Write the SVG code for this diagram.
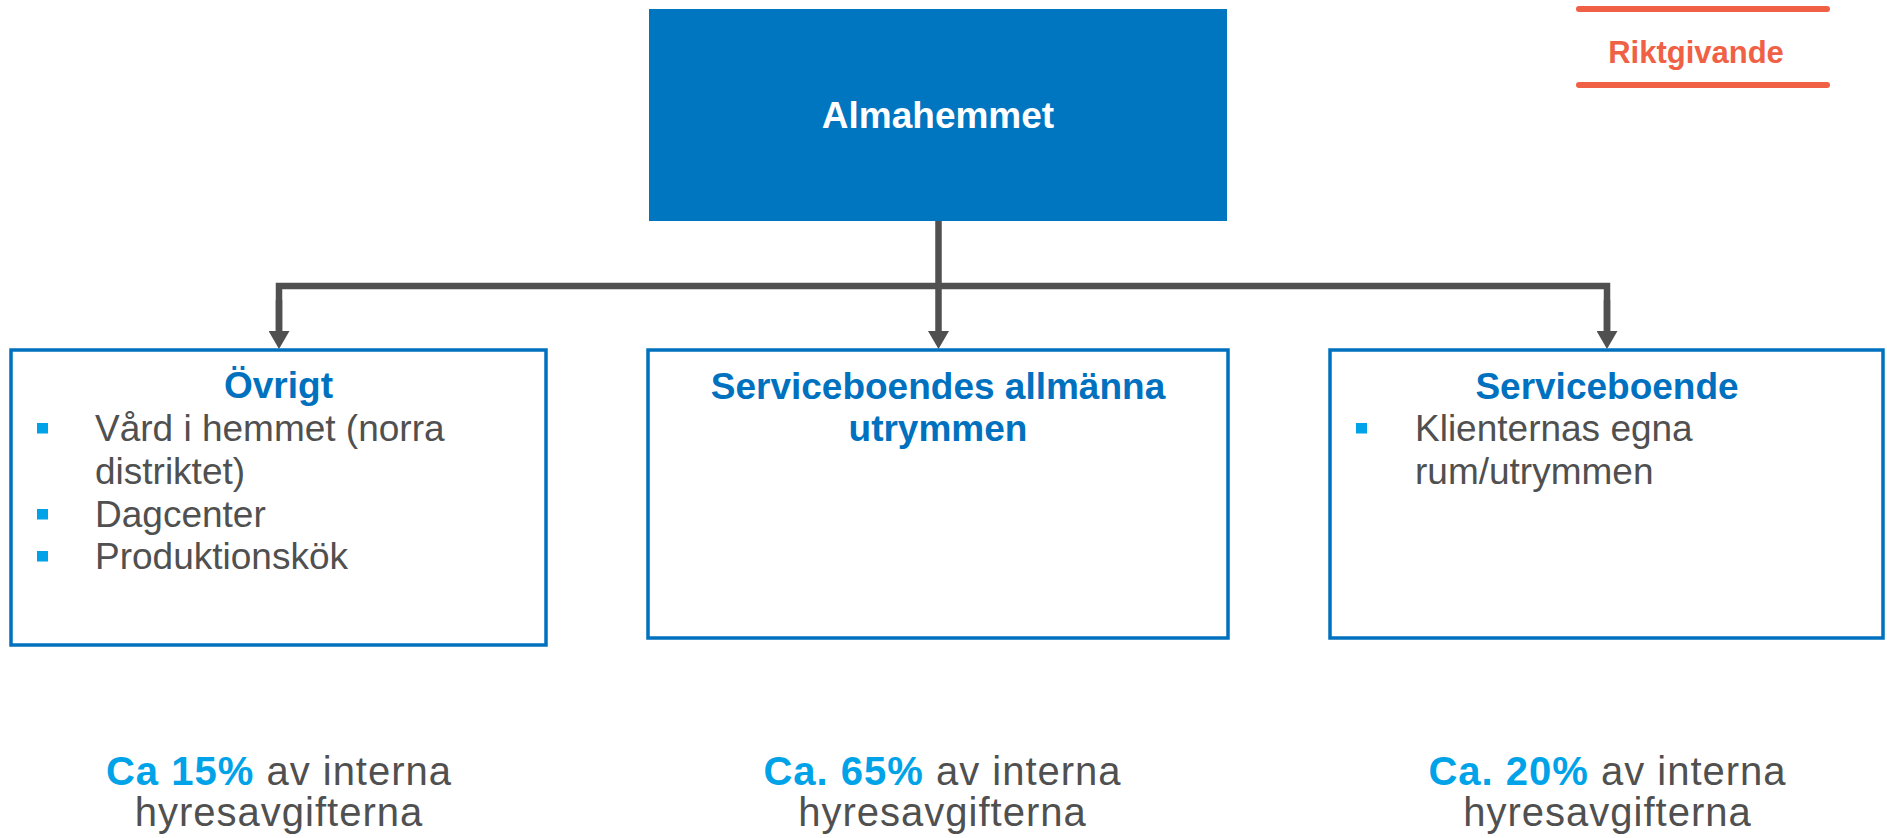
<svg xmlns="http://www.w3.org/2000/svg" width="1887" height="838" viewBox="0 0 1887 838">
  <style>
    text { font-family: "Liberation Sans", Arial, sans-serif; }
    .box { fill: #FFFFFF; stroke: #0071BF; stroke-width: 3.5; }
    .title { font-size: 37px; font-weight: bold; fill: #0071BF; text-anchor: middle; }
    .item { font-size: 37px; fill: #505050; }
    .bullet { fill: #00A3E8; }
    .conn { fill: none; stroke: #505050; stroke-width: 6.5; stroke-linejoin: miter; }
    .share { font-size: 40px; letter-spacing: 1px; fill: #505050; text-anchor: middle; }
    .pct { font-weight: bold; fill: #00A3E8; }
    .tag { stroke: #EF6045; stroke-width: 6; stroke-linecap: round; }
  </style>
  <defs>
    <marker id="arrow" markerUnits="userSpaceOnUse" markerWidth="18" markerHeight="21" refX="0" refY="10.5" orient="auto">
      <path d="M0,0 L18,10.5 L0,21 Z" fill="#505050"/>
    </marker>
  </defs>

  <g id="riktgivande">
    <line class="tag" x1="1579" y1="9" x2="1827" y2="9"/>
    <line class="tag" x1="1579" y1="85" x2="1827" y2="85"/>
    <text x="1696" y="63" font-size="31" font-weight="bold" fill="#EF6045" text-anchor="middle">Riktgivande</text>
  </g>

  <g id="connectors">
    <path class="conn" d="M938.5,218 V331" marker-end="url(#arrow)"/>
    <path class="conn" d="M279,331 V286 H1607 V331" />
    <path class="conn" d="M279,300 V331" marker-end="url(#arrow)"/>
    <path class="conn" d="M1607,300 V331" marker-end="url(#arrow)"/>
  </g>

  <g id="almahemmet">
    <rect x="649" y="9" width="578" height="212" fill="#0075C0"/>
    <text x="938" y="128" font-size="37" font-weight="bold" fill="#FFFFFF" text-anchor="middle">Almahemmet</text>
  </g>

  <g id="ovrigt">
    <rect class="box" x="11" y="350" width="535" height="295"/>
    <text class="title" x="278.5" y="398">Övrigt</text>
    <rect class="bullet" x="37" y="423" width="11" height="10.5"/>
    <text class="item" x="95" y="441">Vård i hemmet (norra</text>
    <text class="item" x="95" y="483.5">distriktet)</text>
    <rect class="bullet" x="37" y="509" width="11" height="10.5"/>
    <text class="item" x="95" y="526.5">Dagcenter</text>
    <rect class="bullet" x="37" y="551" width="11" height="10.5"/>
    <text class="item" x="95" y="568.5">Produktionskök</text>
  </g>

  <g id="allmanna">
    <rect class="box" x="648" y="350" width="580" height="288"/>
    <text class="title" x="938" y="399">Serviceboendes allmänna</text>
    <text class="title" x="938" y="441">utrymmen</text>
  </g>

  <g id="serviceboende">
    <rect class="box" x="1330" y="350" width="553" height="288"/>
    <text class="title" x="1607" y="399">Serviceboende</text>
    <rect class="bullet" x="1356" y="423" width="11" height="10.5"/>
    <text class="item" x="1415" y="441">Klienternas egna</text>
    <text class="item" x="1415" y="484">rum/utrymmen</text>
  </g>

  <g id="share-ovrigt">
    <text class="share" x="279" y="785"><tspan class="pct">Ca 15%</tspan> av interna</text>
    <text class="share" x="279" y="826">hyresavgifterna</text>
  </g>
  <g id="share-allmanna">
    <text class="share" x="942.5" y="785"><tspan class="pct">Ca. 65%</tspan> av interna</text>
    <text class="share" x="942.5" y="826">hyresavgifterna</text>
  </g>
  <g id="share-serviceboende">
    <text class="share" x="1607.5" y="785"><tspan class="pct">Ca. 20%</tspan> av interna</text>
    <text class="share" x="1607.5" y="826">hyresavgifterna</text>
  </g>
</svg>
